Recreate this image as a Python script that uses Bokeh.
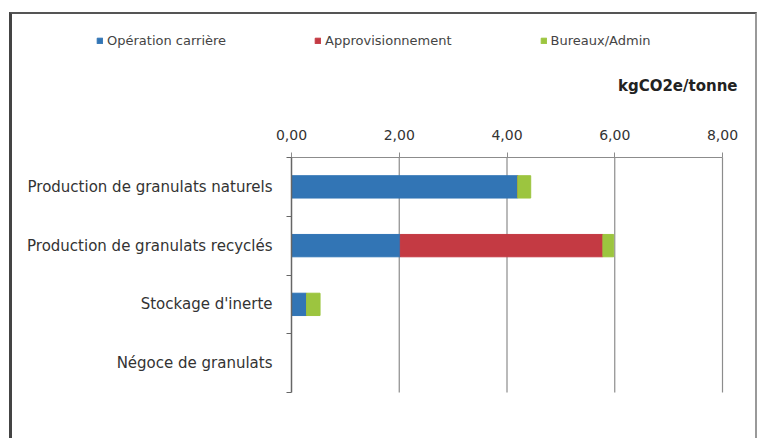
from bokeh.plotting import figure
from bokeh.models import (ColumnDataSource, FixedTicker, CustomJSTickFormatter, Legend, LegendItem,
                          Label, LinearAxis, Range1d)
from bokeh.embed import file_html
from bokeh.resources import INLINE

categories = ["Production de granulats naturels", "Production de granulats recyclés",
              "Stockage d'inerte", "Négoce de granulats"]
series = ["Opération carrière", "Approvisionnement", "Bureaux/Admin"]
operation = [4.20, 2.02, 0.28, 0.0]
approvisionnement = [0.0, 3.76, 0.0, 0.0]
bureaux = [0.24, 0.20, 0.25, 0.0]
x_ticks = [0, 2, 4, 6, 8]
unit_label = "kgCO2e/tonne"
colors = ["#3275b5", "#c43a43", "#9cc53f"]

n = len(categories)
ys = [n - i - 0.5 for i in range(n)]
left1 = [0.0] * n
right1 = [a for a in operation]
right2 = [a + b for a, b in zip(right1, approvisionnement)]
right3 = [a + b for a, b in zip(right2, bureaux)]
src = ColumnDataSource(dict(y=ys, l1=left1, r1=right1, r2=right2, r3=right3))

FONT = "DejaVu Sans"

# layout (pixels inside the bordered box)
W, H = 748, 426
PLOT_L, PLOT_R, PLOT_T, PLOT_B = 279, 710, 143, 378   # inner plotting area
xmin, xmax = x_ticks[0], x_ticks[-1]
sx = (PLOT_R - PLOT_L) / (xmax - xmin)
sy = (PLOT_B - PLOT_T) / n
x_range = Range1d(xmin - PLOT_L / sx, xmax + (W - PLOT_R) / sx)
y_range = Range1d(-(H - PLOT_B) / sy, n + PLOT_T / sy)

p = figure(width=W, height=H, output_backend="svg", toolbar_location=None,
           x_range=x_range, y_range=y_range, x_axis_type=None, y_axis_type=None,
           min_border=0, min_border_left=0, min_border_right=0,
           min_border_top=0, min_border_bottom=0)
p.styles = {"border-left": "3px solid #444", "border-top": "2px solid #555",
            "border-right": "2px solid #999", "margin-left": "9px", "margin-top": "12px"}
p.outline_line_color = None
p.xgrid.visible = False
p.ygrid.visible = False

# gridlines within the plotting area only
gsrc = ColumnDataSource(dict(x=x_ticks[1:], y0=[0] * (len(x_ticks) - 1), y1=[n] * (len(x_ticks) - 1)))
p.segment(x0="x", x1="x", y0="y0", y1="y1", source=gsrc, line_color="#8c8c8c", line_width=1.2)

h = 0.38
r1 = p.hbar(y="y", left="l1", right="r1", height=h, color=colors[0], source=src)
r2 = p.hbar(y="y", left="r1", right="r2", height=h, color=colors[1], source=src)
r3 = p.hbar(y="y", left="r2", right="r3", height=h, color=colors[2], source=src)

# x axis (drawn at the top of the plotting area)
xa = LinearAxis(fixed_location=n, bounds=(xmin, xmax))
xa.ticker = FixedTicker(ticks=x_ticks)
xa.formatter = CustomJSTickFormatter(code="return tick.toFixed(2).replace('.', ',');")
xa.axis_line_color = "#8c8c8c"
xa.major_tick_line_color = "#8c8c8c"
xa.major_tick_out = 5
xa.major_tick_in = 0
xa.minor_tick_line_color = None
xa.major_label_text_font = FONT
xa.major_label_text_font_size = "14px"
xa.major_label_text_color = "#333333"
xa.major_label_standoff = 13
p.add_layout(xa, "above")

# y axis (drawn at x = 0)
ya = LinearAxis(fixed_location=xmin, bounds=(0, n))
ya.ticker = FixedTicker(ticks=ys, minor_ticks=list(range(n + 1)))
ya.major_label_overrides = {y: c for y, c in zip(ys, categories)}
ya.major_tick_line_color = None
ya.minor_tick_out = 5
ya.minor_tick_in = 0
ya.minor_tick_line_color = "#666666"
ya.axis_line_color = "#666666"
ya.axis_line_width = 1.5
ya.major_label_text_font = FONT
ya.major_label_text_font_size = "15px"
ya.major_label_text_color = "#333333"
ya.major_label_standoff = 13
p.add_layout(ya, "left")

lab = Label(x=xmax, y=n, x_offset=15, y_offset=72, text=unit_label,
            text_align="right", text_baseline="middle",
            text_font=FONT, text_font_size="15px", text_font_style="bold",
            text_color="#222222")
p.add_layout(lab)

legend = Legend(items=[LegendItem(label=series[0], renderers=[r1]),
                       LegendItem(label=series[1], renderers=[r2]),
                       LegendItem(label=series[2], renderers=[r3])],
                orientation="horizontal", location=(84, 392),
                glyph_width=7, glyph_height=7, label_standoff=4,
                spacing=88, padding=0, margin=0,
                label_text_font=FONT, label_text_font_size="13px",
                label_text_color="#444444", border_line_color=None,
                background_fill_alpha=0)
p.add_layout(legend, "center")

open("out.html", "w").write(file_html(p, INLINE))
